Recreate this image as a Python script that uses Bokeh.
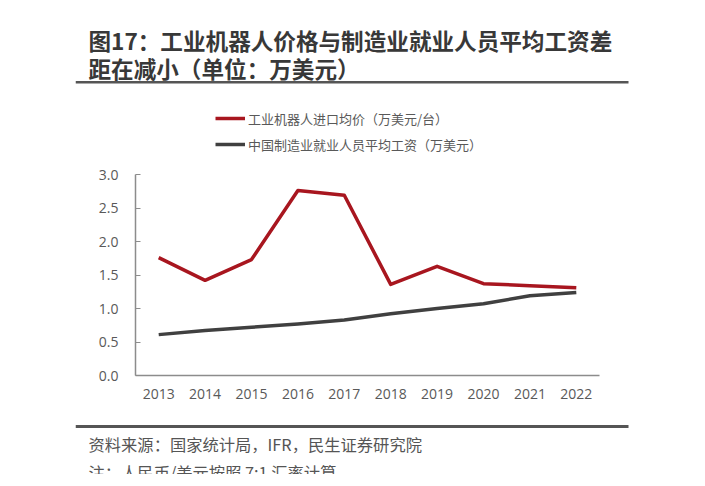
from bokeh.plotting import figure
from bokeh.layouts import column
from bokeh.models import (Label, Legend, LegendItem, FixedTicker, NumeralTickFormatter,
                          Range1d, LinearAxis)
from bokeh.embed import file_html
from bokeh.resources import INLINE

years = [2013, 2014, 2015, 2016, 2017, 2018, 2019, 2020, 2021, 2022]
robot_price = [1.76, 1.42, 1.73, 2.76, 2.69, 1.36, 1.63, 1.37, 1.34, 1.31]
avg_wage = [0.61, 0.67, 0.72, 0.77, 0.83, 0.92, 1.00, 1.07, 1.19, 1.24]
y_ticks = [0.0, 0.5, 1.0, 1.5, 2.0, 2.5, 3.0]

title1 = "图17：工业机器人价格与制造业就业人员平均工资差"
title2 = "距在减小（单位：万美元）"
legend1 = "工业机器人进口均价（万美元/台）"
legend2 = "中国制造业就业人员平均工资（万美元）"
source1 = "资料来源：国家统计局，IFR，民生证券研究院"
source2 = "注：人民币/美元按照 7:1 汇率计算"

CJK = "Noto Sans CJK SC"
RED = "#A8161F"
DARK = "#404040"
RULE = "#555555"
W = 697
FL, FR = 75, 629          # shared frame left/right (page px)
AX_L, AX_R = 135, 599     # x extent of the axes (page px)
AX_T, AX_B = 174, 375     # y extent of the y axis (page px)
HEAD_B, MAIN_B, FOOT_B = 96, 415, 474

px_per_year = (AX_R - AX_L) / 10.0
x0 = years[0] - 0.5 - (AX_L - FL) / px_per_year
x1 = years[-1] + 0.5 + (FR - AX_R) / px_per_year
px_per_unit = (AX_B - AX_T) / 3.0
y_top = (AX_B - HEAD_B) / px_per_unit
y_bot = (AX_B - MAIN_B) / px_per_unit


def blank(y0, y1):
    f = figure(width=W, height=y1 - y0, output_backend="svg", toolbar_location=None,
               x_range=Range1d(FL, FR), y_range=Range1d(y1, y0),
               x_axis_location=None, y_axis_location=None,
               min_border_left=FL, min_border_right=W - FR,
               min_border_top=0, min_border_bottom=0)
    f.outline_line_color = None
    f.xgrid.grid_line_color = None
    f.ygrid.grid_line_color = None
    return f


# ---- header: title and rule (page rows 0..96)
head = blank(0, HEAD_B)
for txt, py in ((title1, 40), (title2, 68)):
    head.add_layout(Label(x=88, y=py, text=txt, text_font=CJK, text_font_size="22.6px",
                          text_font_style="bold", text_color="#383838",
                          text_baseline="middle", text_align="left"))
head.quad(left=[75], right=[628], top=[80.5], bottom=[83], fill_color=RULE, line_color=None)

# ---- main chart with legend (page rows 96..415)
p = figure(width=W, height=MAIN_B - HEAD_B, output_backend="svg", toolbar_location=None,
           x_range=Range1d(x0, x1), y_range=Range1d(y_bot, y_top),
           x_axis_location=None, y_axis_location=None,
           min_border_left=FL, min_border_right=W - FR, min_border_top=0, min_border_bottom=0)
p.outline_line_color = None
p.xgrid.grid_line_color = None
p.ygrid.grid_line_color = None

r1 = p.line(years, robot_price, line_color=RED, line_width=3.5, line_join="round")
r2 = p.line(years, avg_wage, line_color=DARK, line_width=3.5, line_join="round")

xax = LinearAxis(fixed_location=0, bounds=(years[0] - 0.5, years[-1] + 0.5))
yax = LinearAxis(fixed_location=years[0] - 0.5, bounds=(0, 3))
p.add_layout(xax, "below")
p.add_layout(yax, "left")

for ax in (xax, yax):
    ax.axis_line_color = "#8c8c8c"
    ax.axis_line_width = 1.5
    ax.major_label_text_font = "Open Sans"
    ax.major_label_text_font_size = "14px"
    ax.major_label_text_color = "#595959"
    ax.minor_tick_line_color = None

xax.ticker = FixedTicker(ticks=years)
xax.formatter = NumeralTickFormatter(format="0")
xax.major_tick_line_color = None
xax.major_label_standoff = 7
yax.ticker = FixedTicker(ticks=y_ticks)
yax.formatter = NumeralTickFormatter(format="0.0")
yax.major_tick_in = 5
yax.major_tick_out = 0
yax.major_tick_line_color = "#8c8c8c"
yax.major_label_standoff = 17

legend = Legend(items=[LegendItem(label=legend1, renderers=[r1]),
                       LegendItem(label=legend2, renderers=[r2])],
                location=(215 - FL, MAIN_B - 154), orientation="vertical",
                padding=0, margin=0, spacing=6, glyph_width=30, glyph_height=20,
                label_height=20, label_standoff=3,
                label_text_font=CJK, label_text_font_size="13px", label_text_color="#595959",
                border_line_color=None, background_fill_alpha=0)
p.add_layout(legend, "center")

# ---- footer (page rows 415..474)
foot = blank(MAIN_B, FOOT_B)
foot.quad(left=[75], right=[628], top=[424.5], bottom=[427.5], fill_color=RULE, line_color=None)
for txt, py in ((source1, 443), (source2, 471)):
    foot.add_layout(Label(x=88, y=py, text=txt, text_font=CJK, text_font_size="16.3px",
                          text_color="#555555", text_baseline="middle", text_align="left"))

page = column(head, p, foot, spacing=0)
open("out.html", "w").write(file_html(page, INLINE))
